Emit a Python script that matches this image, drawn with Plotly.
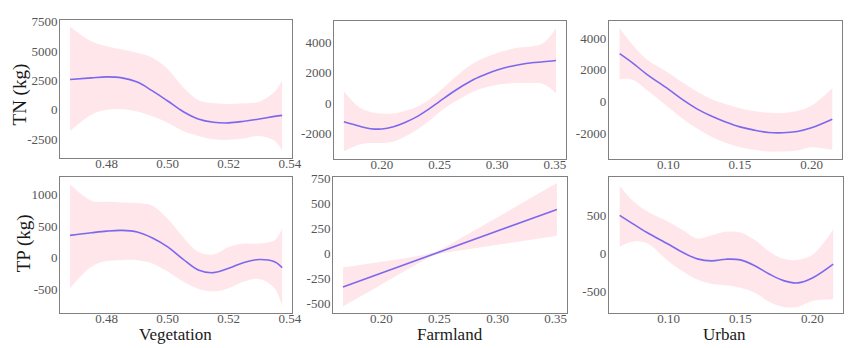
import plotly.graph_objects as go
from plotly.subplots import make_subplots

# ---------------- data ----------------
veg_x = [0.468, 0.475, 0.48, 0.485, 0.49, 0.495, 0.50, 0.505, 0.51, 0.515, 0.52, 0.525, 0.53, 0.535, 0.5375]
veg_tn_fit = [2583, 2722, 2806, 2722, 2361, 1611, 750, -139, -778, -1056, -1111, -972, -778, -556, -472]
veg_tn_up = [7083, 5833, 5417, 5139, 4861, 4444, 3472, 1944, 833, 556, 500, 556, 694, 1528, 2500]
veg_tn_lo = [-1806, -417, 0, 56, -139, -556, -1111, -1806, -2222, -2500, -2556, -2444, -2222, -2639, -3472]

veg_tp_fit = [355, 397, 423, 434, 408, 313, 172, -21, -193, -235, -167, -73, -26, -63, -157]
veg_tp_up = [1165, 904, 888, 878, 867, 826, 617, 329, 94, 52, 172, 225, 225, 277, 460]
veg_tp_lo = [-481, -141, -52, -37, -37, -89, -219, -376, -491, -533, -481, -376, -334, -481, -768]

farm_x = [0.167, 0.18, 0.19, 0.20, 0.21, 0.22, 0.23, 0.24, 0.25, 0.26, 0.27, 0.28, 0.29, 0.30, 0.31, 0.32, 0.33, 0.34, 0.351]
farm_tn_fit = [-1232, -1514, -1686, -1708, -1557, -1276, -908, -432, 108, 649, 1146, 1578, 1903, 2184, 2400, 2551, 2659, 2724, 2811]
farm_tn_up = [778, -259, -584, -692, -692, -519, -259, 173, 778, 1470, 2119, 2659, 3027, 3308, 3524, 3676, 3741, 3957, 4930]
farm_tn_lo = [-3178, -2746, -2638, -2638, -2530, -2205, -1773, -1232, -584, -43, 389, 778, 1038, 1211, 1297, 1319, 1319, 1254, 649]

farm_tp_x = [0.167, 0.18, 0.20, 0.22, 0.235, 0.245, 0.255, 0.27, 0.29, 0.31, 0.33, 0.351]
farm_tp_fit = [-339, -284, -199, -114, -50, -8, 34, 98, 183, 268, 353, 442]
farm_tp_up = [-143, -120, -85, -49, -20, 7, 63, 163, 297, 432, 566, 707]
farm_tp_lo = [-535, -448, -313, -179, -80, -23, 5, 33, 69, 104, 140, 177]

urb_x = [0.066, 0.075, 0.085, 0.10, 0.11, 0.12, 0.13, 0.14, 0.15, 0.16, 0.17, 0.18, 0.19, 0.20, 0.2145]
urb_tn_fit = [3020, 2440, 1717, 786, 124, -455, -910, -1282, -1593, -1799, -1944, -1965, -1882, -1654, -1117]
urb_tn_up = [4612, 3578, 2647, 1820, 1200, 641, 165, -145, -414, -600, -703, -724, -600, -248, 848]
urb_tn_lo = [1406, 1380, 724, -352, -1075, -1696, -2213, -2585, -2875, -3040, -3144, -3144, -3082, -2875, -3040]

urb_tp_fit = [504, 396, 278, 122, 13, -70, -96, -74, -83, -161, -270, -357, -387, -322, -139]
urb_tp_up = [896, 700, 557, 417, 309, 200, 243, 287, 278, 178, 26, -70, -83, -17, 322]
urb_tp_lo = [91, 157, 135, -104, -235, -343, -400, -417, -452, -517, -635, -704, -704, -626, -604]

# axis ticks
veg_ticks = [0.48, 0.50, 0.52, 0.54]
veg_ticklabels = ["0.48", "0.50", "0.52", "0.54"]
farm_ticks = [0.20, 0.25, 0.30, 0.35]
farm_ticklabels = ["0.20", "0.25", "0.30", "0.35"]
urb_ticks = [0.10, 0.15, 0.20]
urb_ticklabels = ["0.10", "0.15", "0.20"]

tn_veg_yticks = [-2500, 0, 2500, 5000, 7500]
tn_farm_yticks = [-2000, 0, 2000, 4000]
tn_urb_yticks = [-2000, 0, 2000, 4000]
tp_veg_yticks = [-500, 0, 500, 1000]
tp_farm_yticks = [-500, -250, 0, 250, 500, 750]
tp_urb_yticks = [-500, 0, 500]

x_titles = ["Vegetation", "Farmland", "Urban"]
y_titles = ["TN (kg)", "TP (kg)"]

# ---------------- style ----------------
W, H = 865, 348
LINE = "#7B68EE"
FILL = "rgba(255,192,203,0.40)"
FONT = "Liberation Serif"
FRAME = "#808080"

panels = [
    (1, 1, veg_x, veg_tn_fit, veg_tn_up, veg_tn_lo, veg_ticks, veg_ticklabels, tn_veg_yticks,
     [0.4648, 0.5406], [-4083, 7667], (61, 295, 15, 155), True),
    (1, 2, farm_x, farm_tn_fit, farm_tn_up, farm_tn_lo, farm_ticks, farm_ticklabels, tn_farm_yticks,
     [0.1585, 0.360], [-3670, 5430], (338, 573, 16, 156), True),
    (1, 3, urb_x, urb_tn_fit, urb_tn_up, urb_tn_lo, urb_ticks, urb_ticklabels, tn_urb_yticks,
     [0.0585, 0.2214], [-3600, 5090], (616, 852, 16, 156), True),
    (2, 1, veg_x, veg_tp_fit, veg_tp_up, veg_tp_lo, veg_ticks, veg_ticklabels, tp_veg_yticks,
     [0.4648, 0.5406], [-867, 1288], (61, 295, 174, 312), True),
    (2, 2, farm_tp_x, farm_tp_fit, farm_tp_up, farm_tp_lo, farm_ticks, farm_ticklabels, tp_farm_yticks,
     [0.1585, 0.360], [-596, 773], (337, 574, 174, 312), False),
    (2, 3, urb_x, urb_tp_fit, urb_tp_up, urb_tp_lo, urb_ticks, urb_ticklabels, tp_urb_yticks,
     [0.0585, 0.2214], [-778, 1004], (616, 853, 175, 312), True),
]

fig = make_subplots(rows=2, cols=3)

for i, (r, c, xs, fit, up, lo, xt, xl, yt, xr, yr, box, spl) in enumerate(panels):
    fig.add_trace(go.Scatter(x=xs, y=up, mode="lines", line=dict(width=0, shape="spline"),
                             hoverinfo="skip", showlegend=False), row=r, col=c)
    fig.add_trace(go.Scatter(x=xs, y=lo, mode="lines", line=dict(width=0, shape="spline"),
                             fill="tonexty", fillcolor=FILL, hoverinfo="skip", showlegend=False),
                  row=r, col=c)
    fig.add_trace(go.Scatter(x=xs, y=fit, mode="lines",
                             line=dict(color=LINE, width=1.6, shape="spline" if spl else "linear"),
                             showlegend=False), row=r, col=c)
    l, rr, t, b = box
    axn = "" if i == 0 else str(i + 1)
    fig.layout["xaxis" + axn].update(
        domain=[l / W, rr / W], range=xr, tickvals=xt, ticktext=xl,
        showline=True, mirror=True, linecolor=FRAME, linewidth=1.2,
        showgrid=False, zeroline=False, ticks="", ticklabelstandoff=-6,
        tickfont=dict(family=FONT, size=13, color="#555555"))
    fig.layout["yaxis" + axn].update(
        domain=[1 - b / H, 1 - t / H], range=yr, tickvals=yt,
        ticktext=[str(v) for v in yt],
        showline=True, mirror=True, linecolor=FRAME, linewidth=1.2,
        showgrid=False, zeroline=False, ticks="", ticklabelstandoff=-1,
        tickfont=dict(family=FONT, size=13, color="#555555"))

annotations = []
for name, xc in zip(x_titles, [178, 455.5, 733]):
    annotations.append(dict(text=name, x=xc / W, y=1 - 334 / H, xref="paper", yref="paper",
                            xanchor="center", yanchor="middle", showarrow=False,
                            font=dict(family=FONT, size=17, color="#1a1a1a")))
for name, (xc, yc) in zip(y_titles, [(20, 91), (24, 242)]):
    annotations.append(dict(text=name, x=xc / W, y=1 - yc / H, xref="paper", yref="paper",
                            xanchor="center", yanchor="middle", showarrow=False, textangle=-90,
                            font=dict(family=FONT, size=19, color="#1a1a1a")))

fig.update_layout(width=W, height=H, margin=dict(l=0, r=0, t=0, b=0),
                  paper_bgcolor="white", plot_bgcolor="white",
                  annotations=annotations, showlegend=False)

fig.write_html("out.html")
